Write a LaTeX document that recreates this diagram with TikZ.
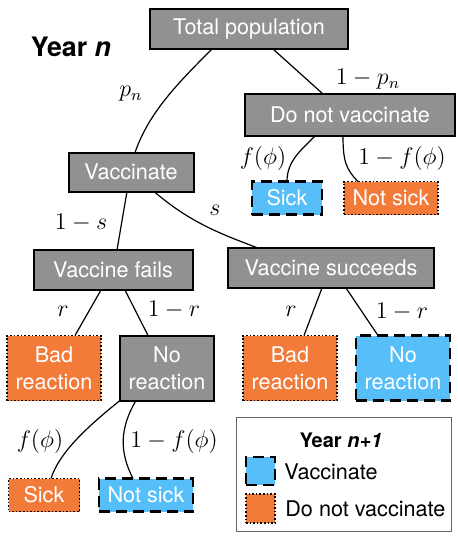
\documentclass[tikz,border=0pt]{standalone}
\usepackage[no-math]{fontspec}
\setmainfont{TeX Gyre Heros}
\usetikzlibrary{calc}
\definecolor{boxgray}{RGB}{145,145,145}
\definecolor{vblue}{RGB}{86,190,248}
\definecolor{vorange}{RGB}{243,123,58}
\newcommand\boxfont{\fontsize{10.8}{13.5}\selectfont}
\newcommand\labfont{\fontsize{12}{14}\selectfont}
\tikzset{
  basebox/.style={inner sep=0pt, outer sep=0pt, align=center, text=white, font=\boxfont},
  graybox/.style={basebox, draw=black, line width=1pt, fill=boxgray},
  bluebox/.style={basebox, draw=black, line width=1.2pt, fill=vblue, dash pattern=on 5.5pt off 3pt},
  orangebox/.style={basebox, draw=black, line width=0.8pt, fill=vorange, dash pattern=on 0.8pt off 1pt},
  conn/.style={draw=black, line width=0.6pt},
  lab/.style={inner sep=0pt, font=\labfont},
}
\begin{document}
\begin{tikzpicture}[x=0.5pt,y=-0.5pt]
\useasboundingbox (0,0) rectangle (457,541);
\fill[white] (0,0) rectangle (457,541);

% nodes
\node[graybox, minimum width=99pt, minimum height=20pt] (tot) at (249,29) {Total population};
\node[graybox, minimum width=105pt, minimum height=21pt] (dnv) at (350,115) {Do not vaccinate};
\node[graybox, minimum width=62.5pt, minimum height=19.5pt] (vac) at (131,172) {Vaccinate};
\node[bluebox, minimum width=35pt, minimum height=16.5pt] (sicka) at (287,198) {Sick};
\node[orangebox, minimum width=47pt, minimum height=16.5pt] (notsa) at (391,198) {Not sick};
\node[graybox, minimum width=79.5pt, minimum height=20pt] (fail) at (113,270) {Vaccine fails};
\node[graybox, minimum width=103pt, minimum height=20pt] (succ) at (331,268) {Vaccine succeeds};
\node[orangebox, minimum width=47pt, minimum height=32.5pt] (bada) at (54,368) {Bad\\reaction};
\node[graybox, minimum width=47pt, minimum height=32.5pt] (nora) at (167,368) {No\\reaction};
\node[orangebox, minimum width=47pt, minimum height=32.5pt] (badb) at (290,368) {Bad\\reaction};
\node[bluebox, minimum width=47pt, minimum height=32.5pt] (norb) at (403,368) {No\\reaction};
\node[orangebox, minimum width=35.5pt, minimum height=16.5pt] (sickb) at (44,495) {Sick};
\node[bluebox, minimum width=47pt, minimum height=16.5pt] (notsb) at (146,495) {Not sick};

\node[font=\bfseries\fontsize{13.4}{16}\selectfont, inner sep=0pt] (year) at (71,47) {Year \textit{n}};

% connectors
\draw[conn] ($(tot.south)+(-37,0)$) .. controls +(-35,35) and +(14,-40) .. ($(vac.north)+(4,0)$);
\draw[conn] ($(tot.south)+(24,0)$) -- ($(dnv.north)+(-27,0)$);
\draw[conn] ($(dnv.south)+(-35,0)$) .. controls +(-15,15) and +(0,-20) .. (sicka.north);
\draw[conn] ($(dnv.south)+(-7,0)$) .. controls +(0,25) and +(-12,-12) .. ($(notsa.north)+(-33,0)$);
\draw[conn] ($(vac.south)+(-4,0)$) -- ($(fail.north)+(4,0)$);
\draw[conn] ($(vac.south)+(23,0)$) .. controls +(35,30) and +(-40,-15) .. ($(succ.north)+(-73,0)$);
\draw[conn] ($(fail.south)+(-12,0)$) -- ($(bada.north)+(21,0)$);
\draw[conn] ($(fail.south)+(12,0)$) -- ($(nora.north)+(-19,0)$);
\draw[conn] ($(succ.south)+(-9,0)$) -- ($(badb.north)+(14,0)$);
\draw[conn] ($(succ.south)+(15,0)$) -- ($(norb.north)+(-25,0)$);
\draw[conn] ($(nora.south)+(-47,0)$) .. controls +(-35,28) and +(8,-25) .. ($(sickb.north)+(7,0)$);
\draw[conn] ($(nora.south)+(-31,0)$) .. controls +(-16,27) and +(-14,-27) .. ($(notsb.north)+(-13,0)$);

% labels
\node[lab] (l1) at (131,94) {$p_n$};
\node[lab] (l2) at (368,79) {$1-p_n$};
\node[lab] (l3) at (263,158) {$f(\phi)$};
\node[lab] (l4) at (402,158) {$1-f(\phi)$};
\node[lab] (l5) at (81,223) {$1-s$};
\node[lab] (l6) at (215,210) {$s$};
\node[lab] (l7) at (63,311) {$r$};
\node[lab] (l8) at (174,310) {$1-r$};
\node[lab] (l9) at (291,311) {$r$};
\node[lab] (l10) at (402,312) {$1-r$};
\node[lab] (l11) at (40,441) {$f(\phi)$};
\node[lab] (l12) at (174,441) {$1-f(\phi)$};

% legend
\node[draw=black!60, line width=0.5pt, minimum width=107.5pt, minimum height=57pt, inner sep=0pt] (leg) at (343.5,474) {};
\node[font=\bfseries\fontsize{10}{12}\selectfont, inner sep=0pt] (legt) at (341,440) {Year \textit{n+1}};
\node[bluebox, minimum width=14.5pt, minimum height=14pt] (swa) at (260.5,471) {};
\node[orangebox, minimum width=14.5pt, minimum height=14.5pt] (swb) at (260.5,508.5) {};
\node[anchor=west, inner sep=0pt, font=\boxfont] (lega) at (284,472) {Vaccinate};
\node[anchor=west, inner sep=0pt, font=\boxfont] (legb) at (285,509) {Do not vaccinate};
\end{tikzpicture}
\end{document}
